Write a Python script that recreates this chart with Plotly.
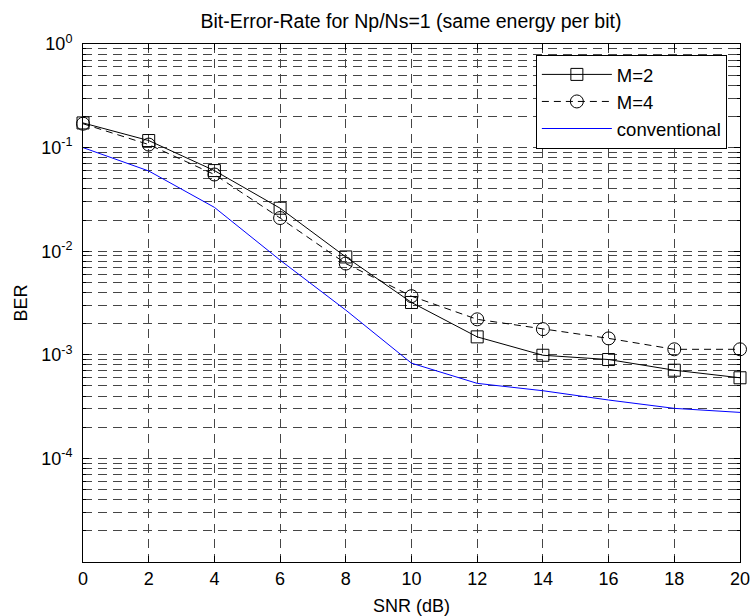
import plotly.graph_objects as go

snr = [0, 2, 4, 6, 8, 10, 12, 14, 16, 18, 20]
ber_m2 = [0.173, 0.117, 0.060, 0.026, 0.0088, 0.0032, 0.00149, 0.00099, 0.00090, 0.00071, 0.00060]
ber_m4 = [0.170, 0.107, 0.055, 0.0209, 0.0076, 0.00368, 0.0022, 0.00177, 0.00144, 0.00113, 0.00113]
ber_conv = [0.1, 0.0595, 0.0265, 0.0082, 0.0027, 0.00083, 0.00053, 0.00045, 0.000366, 0.000304, 0.000278]

x_ticks = [0, 2, 4, 6, 8, 10, 12, 14, 16, 18, 20]
y_tickvals = [1e-4, 1e-3, 1e-2, 1e-1, 1e0]
y_ticktext = ["10<sup>-4</sup>", "10<sup>-3</sup>", "10<sup>-2</sup>", "10<sup>-1</sup>", "10<sup>0</sup>"]

FONT = "Liberation Sans, Arial, sans-serif"
GRID = "rgb(70,70,70)"

fig = go.Figure()
fig.add_trace(go.Scatter(
    x=snr, y=ber_m2, name="M=2", mode="lines+markers", legendgroup="a", cliponaxis=False,
    line=dict(color="black", width=1),
    marker=dict(symbol="square-open", size=12, color="black", line=dict(width=1, color="black")),
))
fig.add_trace(go.Scatter(
    x=snr, y=ber_m4, name="M=4", mode="lines+markers", legendgroup="b", cliponaxis=False,
    line=dict(color="black", width=1, dash="7px,5px"),
    marker=dict(symbol="circle-open", size=13, color="black", line=dict(width=1, color="black")),
))
fig.add_trace(go.Scatter(
    x=snr, y=ber_conv, name="conventional", mode="lines", legendgroup="c",
    line=dict(color="rgb(0,0,255)", width=1),
))

fig.update_layout(
    width=754, height=616,
    margin=dict(l=83, r=14, t=44, b=54, autoexpand=False),
    paper_bgcolor="white", plot_bgcolor="white",
    font=dict(family=FONT, size=18, color="black"),
    title=dict(text="Bit-Error-Rate for Np/Ns=1 (same energy per bit)",
               x=0.545, xanchor="center", y=0.966, yanchor="middle", yref="container",
               font=dict(size=19.5, family=FONT, color="black")),
    showlegend=True,
    legend=dict(x=0.98, y=0.979, xanchor="right", yanchor="top",
                bordercolor="black", borderwidth=1, bgcolor="white",
                font=dict(size=18.5, family=FONT), traceorder="grouped",
                tracegroupgap=0, itemwidth=70),
)

fig.update_xaxes(
    range=[0, 20], tickvals=x_ticks, ticks="inside", ticklen=6, tickcolor="black",
    showline=True, linecolor="black", linewidth=1, mirror="ticks",
    showgrid=True, gridcolor=GRID, gridwidth=1, griddash="9px,6px",
    zeroline=False, automargin=False,
    tickfont=dict(size=18, family=FONT),
    title=dict(text="SNR (dB)", font=dict(size=18, family=FONT), standoff=12),
)
fig.update_yaxes(
    type="log", range=[-5, 0], tickvals=y_tickvals, ticktext=y_ticktext,
    ticks="inside", ticklen=6, tickcolor="black", ticklabelstandoff=6,
    showline=True, linecolor="black", linewidth=1, mirror="ticks",
    showgrid=True, gridcolor=GRID, gridwidth=1, griddash="9px,6px",
    zeroline=False, automargin=False,
    tickfont=dict(size=18, family=FONT),
    minor=dict(dtick="D1", showgrid=True, gridcolor=GRID, gridwidth=1, griddash="9px,6px",
               ticks="inside", ticklen=3, tickcolor="black"),
    title=dict(text="BER", font=dict(size=18, family=FONT), standoff=8),
)

fig.write_html("out.html", config={"displayModeBar": False},
               post_script="document.body.style.margin='0';")
